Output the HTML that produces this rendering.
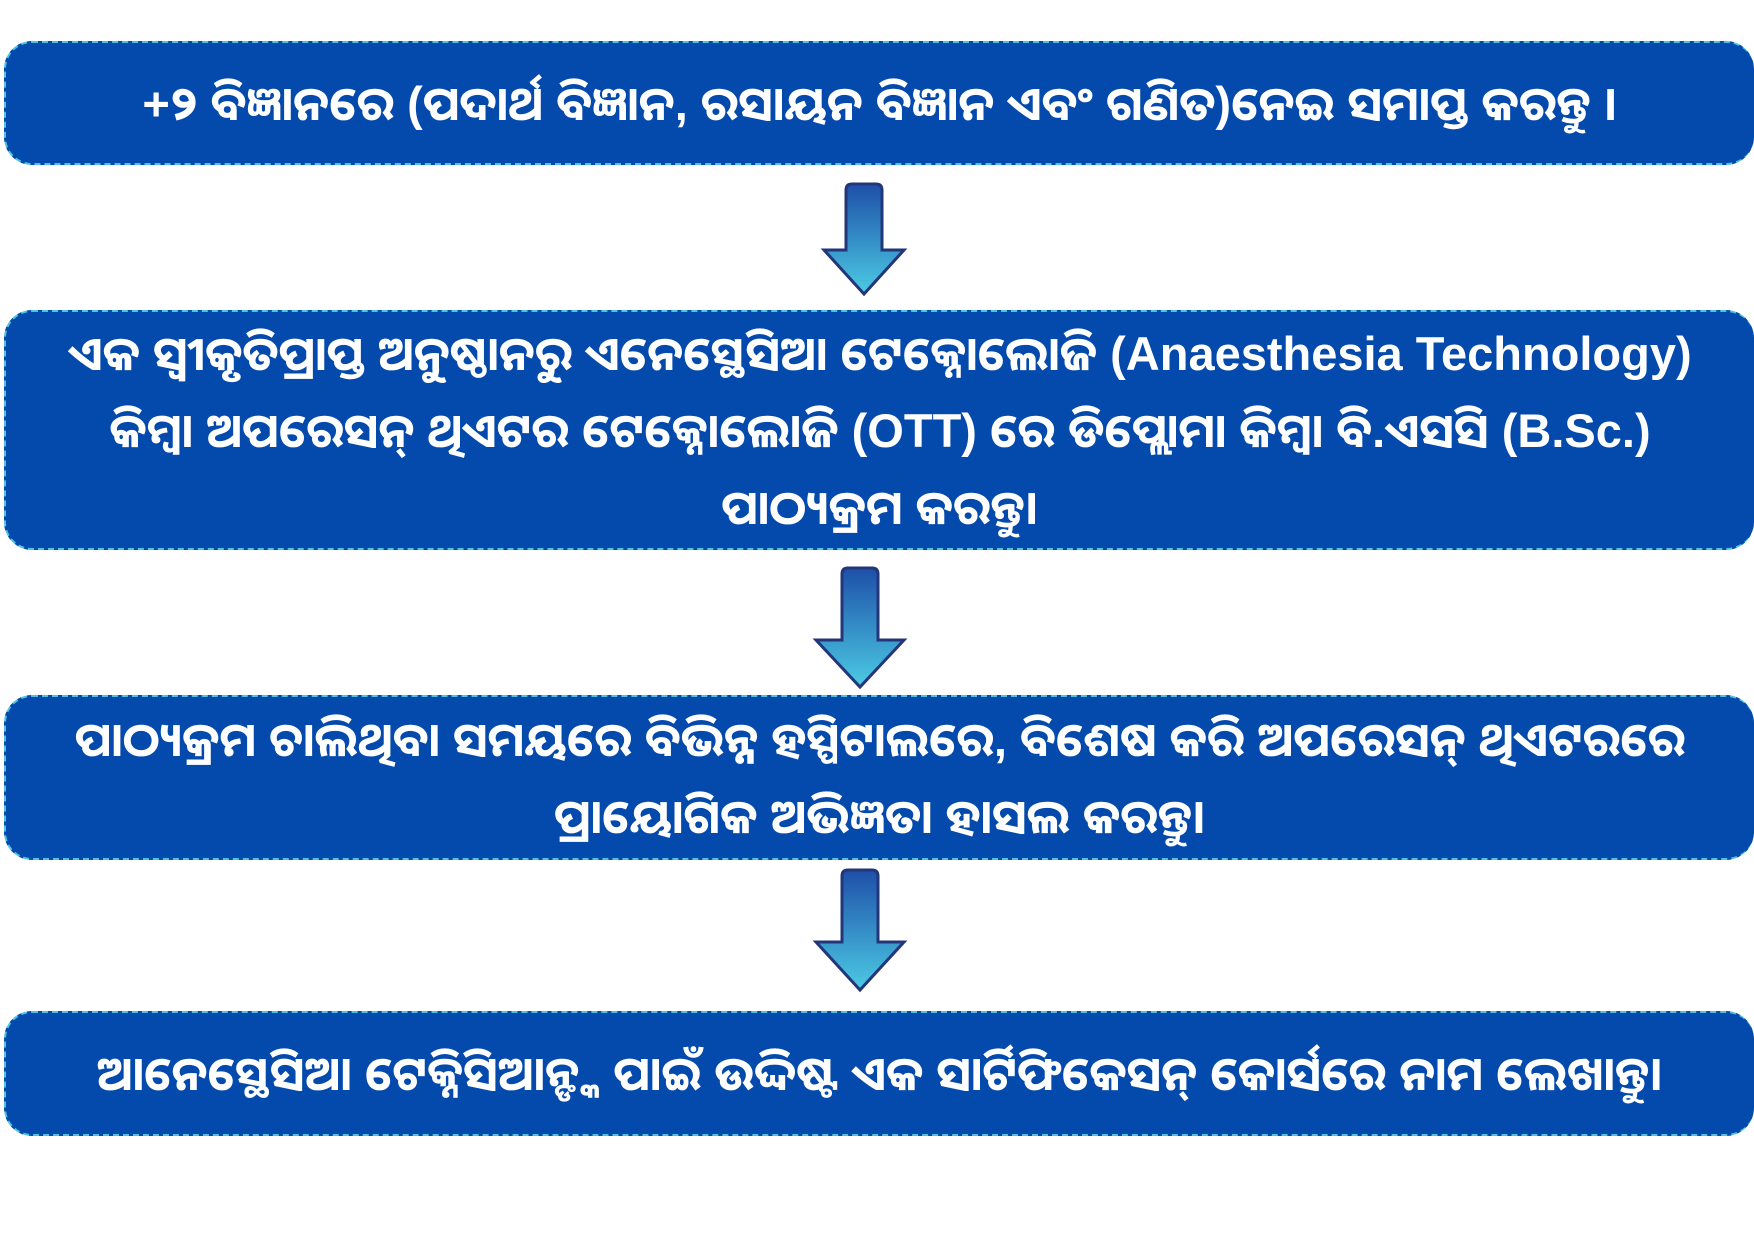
<!DOCTYPE html>
<html><head><meta charset="utf-8"><style>
html,body{margin:0;padding:0;background:#fff;width:1754px;height:1240px;overflow:hidden;position:relative;font-family:"Liberation Sans","Noto Sans Oriya","DejaVu Sans",sans-serif;}
.box{position:absolute;left:4px;width:1750px;background:#044aac;border:2px dashed #4cc4e0;border-right:none;border-radius:28px;box-sizing:border-box;color:#fff;font-weight:bold;font-size:47px;line-height:77px;text-align:center;display:flex;align-items:center;justify-content:center;white-space:nowrap;}
</style></head><body>
<div class="box" style="top:41px;height:124px;">+୨ ବିଜ୍ଞାନରେ (ପଦାର୍ଥ ବିଜ୍ଞାନ, ରସାୟନ ବିଜ୍ଞାନ ଏବଂ ଗଣିତ)ନେଇ ସମାପ୍ତ କରନ୍ତୁ ।</div>
<div class="box" style="top:310px;height:240px;"><div>ଏକ ସ୍ୱୀକୃତିପ୍ରାପ୍ତ ଅନୁଷ୍ଠାନରୁ ଏନେସ୍ଥେସିଆ ଟେକ୍ନୋଲୋଜି (Anaesthesia Technology)<br>କିମ୍ବା ଅପରେସନ୍ ଥିଏଟର ଟେକ୍ନୋଲୋଜି (OTT) ରେ ଡିପ୍ଲୋମା କିମ୍ବା ବି.ଏସସି (B.Sc.)<br>ପାଠ୍ୟକ୍ରମ କରନ୍ତୁ।</div></div>
<div class="box" style="top:695px;height:165px;"><div>ପାଠ୍ୟକ୍ରମ ଚାଲିଥିବା ସମୟରେ ବିଭିନ୍ନ ହସ୍ପିଟାଲରେ, ବିଶେଷ କରି ଅପରେସନ୍ ଥିଏଟରରେ<br>ପ୍ରାୟୋଗିକ ଅଭିଜ୍ଞତା  ହାସଲ କରନ୍ତୁ।</div></div>
<div class="box" style="top:1011px;height:125px;">ଆନେସ୍ଥେସିଆ ଟେକ୍ନିସିଆନ୍ଙ୍କ ପାଇଁ ଉଦ୍ଦିଷ୍ଟ ଏକ ସାର୍ଟିଫିକେସନ୍ କୋର୍ସରେ ନାମ ଲେଖାନ୍ତୁ।</div>
<svg width="1754" height="1240" style="position:absolute;left:0;top:0">
<defs><linearGradient id="g" x1="0" y1="0" x2="0" y2="1"><stop offset="0" stop-color="#1d4fa8"/><stop offset="1" stop-color="#4ccbe4"/></linearGradient></defs>
<g stroke="#23367a" stroke-width="3" fill="url(#g)">
<path d="M846 190 Q846 184 852 184 L876 184 Q882 184 882 190 L882 250 L904 250 L864 294 L824 250 L846 250 Z"/>
<path d="M842 574 Q842 568 848 568 L872 568 Q878 568 878 574 L878 640 L904 640 L860 687 L816 640 L842 640 Z"/>
<path d="M842 876 Q842 870 848 870 L872 870 Q878 870 878 876 L878 942 L904 942 L860 990 L816 942 L842 942 Z"/>
</g></svg>
</body></html>
